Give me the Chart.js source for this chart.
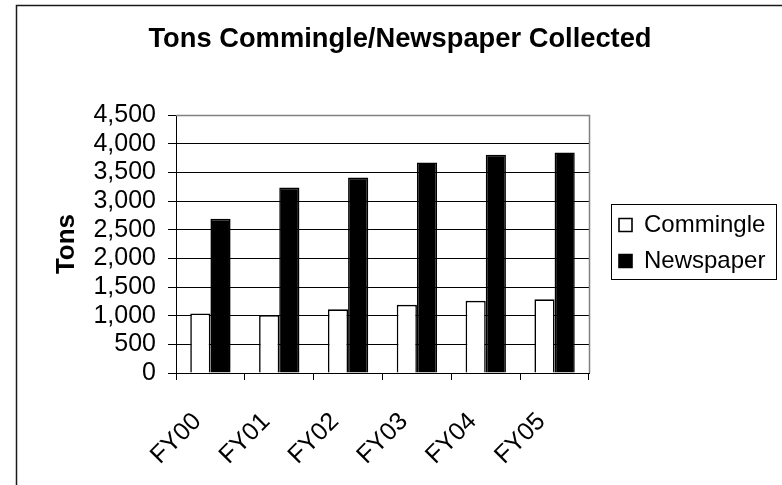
<!DOCTYPE html>
<html>
<head>
<meta charset="utf-8">
<script src="https://cdn.jsdelivr.net/npm/chart.js@4/dist/chart.umd.min.js"></script>
<style>
  html, body { margin: 0; padding: 0; background: #ffffff; }
  canvas { display: block; }
</style>
</head>
<body>
<canvas id="c" width="782" height="485"></canvas>
<script>
// ---- data ----
const categories = ['FY00', 'FY01', 'FY02', 'FY03', 'FY04', 'FY05'];
const commingle = [1040, 1010, 1110, 1190, 1260, 1285];
const newspaper = [2690, 3235, 3410, 3674, 3808, 3849];
const seriesNames = ['Commingle', 'Newspaper'];
const chartTitle = 'Tons Commingle/Newspaper Collected';
const yAxisTitle = 'Tons';
const yMin = 0, yMax = 4500, yStep = 500;

const FONT = "'Liberation Sans', Arial, sans-serif";

const framePlugin = {
  id: 'framePlugin',
  beforeUpdate(chart) {
    const lg = chart.legend;
    if (lg && !lg._fixedFit) {
      const orig = lg.fit;
      lg.fit = function () { orig.call(this); if (!this.isHorizontal()) this.width = 193; };
      lg._fixedFit = true;
    }
  },
  afterLayout(chart) {
    const lg = chart.legend;
    if (!lg) return;
    const p = lg.options.labels.padding;
    lg.left = 619 - p;
    lg.right = lg.left + 193;
    lg.top = 213 - p;
    lg.bottom = lg.top + 120;
  },
  beforeDraw(chart) {
    const ctx = chart.ctx;
    ctx.save();
    ctx.fillStyle = '#ffffff';
    ctx.fillRect(0, 0, chart.width, chart.height);
    ctx.strokeStyle = '#1a1a1a';
    ctx.lineWidth = 1.5;
    ctx.strokeRect(16.5, 5.5, 900, 900);
    ctx.restore();
  },
  afterDatasetsDraw(chart) {
    const ctx = chart.ctx;
    const a = chart.chartArea;
    ctx.save();
    ctx.strokeStyle = '#808080';
    ctx.lineWidth = 1.5;
    ctx.beginPath();
    ctx.moveTo(a.left, a.top + 0.5);
    ctx.lineTo(a.right + 0.5, a.top + 0.5);
    ctx.lineTo(a.right + 0.5, a.bottom);
    ctx.stroke();
    ctx.restore();
  },
  afterDraw(chart) {
    const ctx = chart.ctx;
    ctx.save();
    ctx.strokeStyle = '#000000';
    ctx.lineWidth = 1;
    ctx.strokeRect(611.5, 204.5, 165, 75);
    ctx.restore();
  }
};

new Chart(document.getElementById('c'), {
  type: 'bar',
  data: {
    labels: categories,
    datasets: [
      { label: seriesNames[0], data: commingle, backgroundColor: '#ffffff', borderColor: '#000000', borderWidth: 1.6 },
      { label: seriesNames[1], data: newspaper, backgroundColor: '#000000', borderColor: '#000000', borderWidth: 1.6 }
    ]
  },
  options: {
    responsive: false,
    animation: false,
    devicePixelRatio: 1,
    categoryPercentage: 0.586,
    barPercentage: 1.0,
    layout: { padding: { left: 18, right: 0, top: 0, bottom: 0 } },
    plugins: {
      title: {
        display: true, text: chartTitle, color: '#000',
        font: { family: FONT, size: 27.3, weight: 'bold' },
        padding: { top: 23, bottom: 59.3 }
      },
      legend: {
        position: 'right', align: 'start',
        labels: { font: { family: FONT, size: 24 }, color: '#000', boxWidth: 13, boxHeight: 13, padding: 12 }
      },
      tooltip: { enabled: false }
    },
    scales: {
      x: {
        grid: { offset: true, drawOnChartArea: false, drawTicks: true, tickLength: 7, color: '#000' },
        border: { display: true, color: '#000', width: 1 },
        ticks: { font: { family: FONT, size: 25 }, color: '#000', minRotation: 45, maxRotation: 45, padding: 27, labelOffset: -13, autoSkip: false },
        afterFit(s) { s.height = 112; }
      },
      y: {
        min: yMin, max: yMax,
        ticks: { stepSize: yStep, autoSkip: false, font: { family: FONT, size: 25 }, color: '#000', padding: 12,
          callback: v => Number(v).toLocaleString('en-US') },
        grid: { color: c => (c.tick && c.tick.value === yMax ? 'rgba(0,0,0,0)' : '#000'), tickColor: '#000', tickLength: 8 },
        border: { display: true, color: '#000', width: 1 },
        title: { display: true, text: yAxisTitle, color: '#000', font: { family: FONT, size: 26, weight: 'bold' }, padding: { top: 33, bottom: 0 } },
        afterFit(s) { s.width = 158; }
      }
    }
  },
  plugins: [framePlugin]
});
</script>
</body>
</html>
